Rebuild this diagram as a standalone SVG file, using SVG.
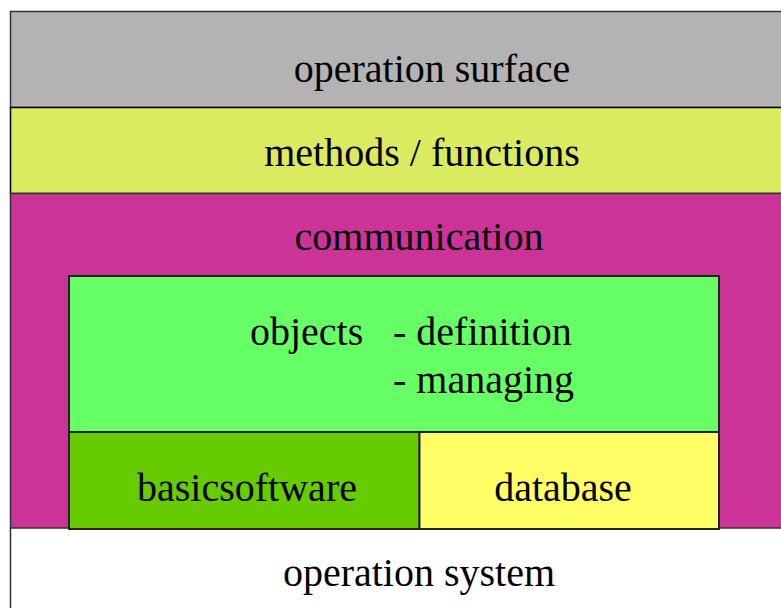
<svg xmlns="http://www.w3.org/2000/svg" width="781" height="608" viewBox="0 0 781 608">
<style>
text{font-family:"Liberation Serif","Times New Roman",Tinos,"DejaVu Serif",serif;font-size:40px;fill:#000}
</style>
<rect width="781" height="608" fill="#fff"/>
<g id="operation-system">
<line x1="10.5" y1="528" x2="10.5" y2="608" stroke="#333" stroke-width="1.5"/>
<text x="419" y="586" text-anchor="middle">operation system</text>
</g>
<g id="operation-surface">
<rect x="10.5" y="11.5" width="780" height="96" fill="#b3b3b3" stroke="#333" stroke-width="1.5"/>
<text x="432" y="82" text-anchor="middle">operation surface</text>
</g>
<g id="methods-functions">
<rect x="10.5" y="107.5" width="780" height="86" fill="#dbeb60" stroke="#000" stroke-width="1.5"/>
<text x="422" y="166" text-anchor="middle">methods / functions</text>
</g>
<g id="communication">
<rect x="10.5" y="193.5" width="780" height="334.5" fill="#cc3399" stroke="#333" stroke-width="1.5"/>
<text x="419" y="250" text-anchor="middle">communication</text>
</g>
<g id="objects">
<rect x="69" y="276" width="650" height="156" fill="#66ff66" stroke="#222" stroke-width="2"/>
<text x="250" y="345">objects</text>
<text x="393" y="345">- definition</text>
<text x="393" y="393">- managing</text>
</g>
<g id="basicsoftware">
<rect x="69" y="432" width="350.5" height="97" fill="#66cc00" stroke="#222" stroke-width="2"/>
<text x="247" y="501" text-anchor="middle">basicsoftware</text>
</g>
<g id="database">
<rect x="419.5" y="432" width="299.5" height="97" fill="#ffff66" stroke="#222" stroke-width="2"/>
<text x="563" y="501" text-anchor="middle">database</text>
</g>
<g id="connectors"></g>
</svg>
